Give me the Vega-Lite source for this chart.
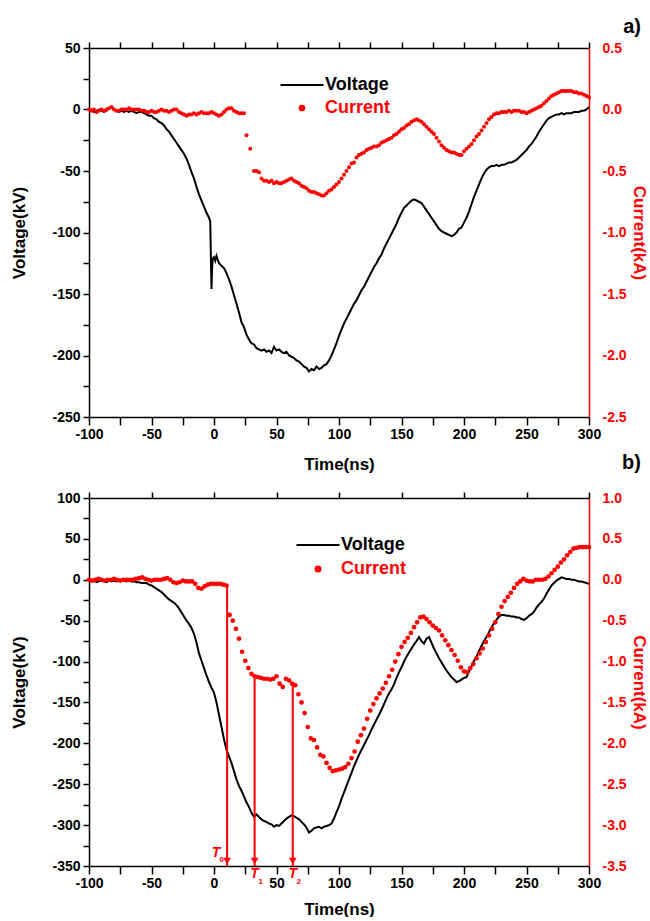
{
"$schema": "https://vega.github.io/schema/vega-lite/v6.json",
"background": "white",
"padding": {"left": 10, "top": 17, "right": 0, "bottom": 0},
"bounds": "flush",
"spacing": 81,
"resolve": {"scale": {"color": "independent"}},
"config": {
 "font": "Liberation Sans",
 "view": {"stroke": null},
 "axis": {"labelFont": "Liberation Sans", "labelFontWeight": "bold", "labelFontSize": 14, "titleFont": "Liberation Sans", "titleFontWeight": "bold", "titleFontSize": 17, "grid": false, "domainWidth": 1.5, "tickWidth": 1.5, "ticks": true, "tickOpacity": 1, "labelOverlap": false, "labelFlush": false, "labelBound": false},
 "legend": {"labelFont": "Liberation Sans", "labelFontWeight": "bold", "labelFontSize": 18}
},
"datasets": {
"va": [
{"t":-100,"v":-1},{"t":-98,"v":0},{"t":-96,"v":-2},{"t":-94,"v":-1},{"t":-92,"v":0},{"t":-90,"v":-1},{"t":-88,"v":-2},{"t":-86,"v":-1},{"t":-84,"v":1},{"t":-82,"v":2},{"t":-80,"v":0},{"t":-78,"v":-1},{"t":-76,"v":-2},{"t":-74,"v":-1},{"t":-72,"v":-2},{"t":-70,"v":-1},{"t":-68,"v":-2},{"t":-66,"v":-1},{"t":-64,"v":-2},{"t":-62,"v":-3},{"t":-60,"v":-2},{"t":-58,"v":-2},{"t":-56,"v":-3},{"t":-54,"v":-4},{"t":-52,"v":-5},{"t":-50,"v":-5},{"t":-48,"v":-7},{"t":-46,"v":-8},{"t":-44,"v":-10},{"t":-42,"v":-11},{"t":-40,"v":-13},{"t":-38,"v":-16},{"t":-36,"v":-18},{"t":-34,"v":-21},{"t":-32,"v":-24},{"t":-30,"v":-27},{"t":-28,"v":-30},{"t":-26,"v":-33},{"t":-24,"v":-36},{"t":-22,"v":-40},{"t":-20,"v":-45},{"t":-18,"v":-51},{"t":-16,"v":-56},{"t":-14,"v":-63},{"t":-12,"v":-69},{"t":-10,"v":-74},{"t":-8,"v":-79},{"t":-6,"v":-84},{"t":-4,"v":-88},{"t":-3,"v":-91},{"t":-2.5,"v":-120},{"t":-2,"v":-146},{"t":-1.5,"v":-128},{"t":-1,"v":-121},{"t":0,"v":-120},{"t":1,"v":-123},{"t":2,"v":-119},{"t":4,"v":-125},{"t":6,"v":-127},{"t":8,"v":-129},{"t":10,"v":-133},{"t":12,"v":-138},{"t":14,"v":-144},{"t":16,"v":-151},{"t":18,"v":-158},{"t":20,"v":-165},{"t":22,"v":-173},{"t":24,"v":-177},{"t":26,"v":-183},{"t":28,"v":-187},{"t":30,"v":-190},{"t":32,"v":-191},{"t":34,"v":-194},{"t":36,"v":-195},{"t":38,"v":-196},{"t":40,"v":-195},{"t":42,"v":-197},{"t":44,"v":-196},{"t":46,"v":-198},{"t":48,"v":-193},{"t":50,"v":-196},{"t":52,"v":-195},{"t":54,"v":-197},{"t":56,"v":-198},{"t":58,"v":-197},{"t":60,"v":-200},{"t":62,"v":-201},{"t":64,"v":-202},{"t":66,"v":-204},{"t":68,"v":-205},{"t":70,"v":-207},{"t":72,"v":-209},{"t":74,"v":-210},{"t":76,"v":-213},{"t":78,"v":-211},{"t":80,"v":-212},{"t":82,"v":-209},{"t":84,"v":-211},{"t":86,"v":-210},{"t":88,"v":-208},{"t":90,"v":-207},{"t":92,"v":-204},{"t":94,"v":-200},{"t":96,"v":-195},{"t":98,"v":-190},{"t":100,"v":-184},{"t":102,"v":-179},{"t":104,"v":-174},{"t":106,"v":-170},{"t":108,"v":-166},{"t":110,"v":-162},{"t":112,"v":-158},{"t":114,"v":-155},{"t":116,"v":-151},{"t":118,"v":-147},{"t":120,"v":-144},{"t":122,"v":-140},{"t":124,"v":-136},{"t":126,"v":-132},{"t":128,"v":-128},{"t":130,"v":-125},{"t":132,"v":-121},{"t":134,"v":-118},{"t":136,"v":-113},{"t":138,"v":-109},{"t":140,"v":-105},{"t":142,"v":-101},{"t":144,"v":-97},{"t":146,"v":-93},{"t":148,"v":-88},{"t":150,"v":-84},{"t":152,"v":-80},{"t":154,"v":-78},{"t":156,"v":-76},{"t":158,"v":-74},{"t":160,"v":-73},{"t":162,"v":-74},{"t":164,"v":-75},{"t":166,"v":-76},{"t":168,"v":-79},{"t":170,"v":-82},{"t":172,"v":-85},{"t":174,"v":-88},{"t":176,"v":-91},{"t":178,"v":-94},{"t":180,"v":-97},{"t":182,"v":-99},{"t":184,"v":-100},{"t":186,"v":-101},{"t":188,"v":-102},{"t":190,"v":-103},{"t":192,"v":-102},{"t":194,"v":-100},{"t":196,"v":-97},{"t":198,"v":-96},{"t":200,"v":-92},{"t":202,"v":-88},{"t":204,"v":-83},{"t":206,"v":-77},{"t":208,"v":-71},{"t":210,"v":-66},{"t":212,"v":-61},{"t":214,"v":-56},{"t":216,"v":-52},{"t":218,"v":-49},{"t":220,"v":-47},{"t":222,"v":-46},{"t":224,"v":-46},{"t":226,"v":-45},{"t":228,"v":-46},{"t":230,"v":-45},{"t":232,"v":-45},{"t":234,"v":-44},{"t":236,"v":-43},{"t":238,"v":-43},{"t":240,"v":-42},{"t":242,"v":-41},{"t":244,"v":-39},{"t":246,"v":-37},{"t":248,"v":-35},{"t":250,"v":-33},{"t":252,"v":-30},{"t":254,"v":-28},{"t":256,"v":-25},{"t":258,"v":-22},{"t":260,"v":-18},{"t":262,"v":-15},{"t":264,"v":-12},{"t":266,"v":-9},{"t":268,"v":-7},{"t":270,"v":-6},{"t":272,"v":-5},{"t":274,"v":-4},{"t":276,"v":-4},{"t":278,"v":-3},{"t":280,"v":-4},{"t":282,"v":-3},{"t":284,"v":-3},{"t":286,"v":-3},{"t":288,"v":-2},{"t":290,"v":-2},{"t":292,"v":-2},{"t":294,"v":-1},{"t":296,"v":-1},{"t":298,"v":0},{"t":300,"v":2}
],
"ia": [
{"t":-100,"i":0},{"t":-98,"i":-0.01},{"t":-96,"i":0},{"t":-94,"i":-0.02},{"t":-92,"i":-0.01},{"t":-90,"i":0},{"t":-88,"i":-0.01},{"t":-86,"i":0},{"t":-84,"i":0.01},{"t":-82,"i":0.02},{"t":-80,"i":0},{"t":-78,"i":-0.01},{"t":-76,"i":-0.01},{"t":-74,"i":0},{"t":-72,"i":0},{"t":-70,"i":0},{"t":-68,"i":0.01},{"t":-66,"i":0},{"t":-64,"i":0},{"t":-62,"i":0},{"t":-60,"i":0},{"t":-58,"i":-0.01},{"t":-56,"i":-0.01},{"t":-54,"i":-0.02},{"t":-52,"i":-0.02},{"t":-50,"i":-0.01},{"t":-48,"i":-0.02},{"t":-46,"i":-0.02},{"t":-44,"i":-0.01},{"t":-42,"i":0},{"t":-40,"i":-0.01},{"t":-38,"i":-0.01},{"t":-36,"i":-0.02},{"t":-34,"i":-0.01},{"t":-32,"i":0},{"t":-30,"i":0},{"t":-28,"i":-0.02},{"t":-26,"i":-0.03},{"t":-24,"i":-0.04},{"t":-22,"i":-0.05},{"t":-20,"i":-0.04},{"t":-18,"i":-0.04},{"t":-16,"i":-0.03},{"t":-14,"i":-0.04},{"t":-12,"i":-0.03},{"t":-10,"i":-0.02},{"t":-8,"i":-0.03},{"t":-6,"i":-0.03},{"t":-4,"i":-0.03},{"t":-2,"i":-0.02},{"t":0,"i":-0.03},{"t":2,"i":-0.04},{"t":4,"i":-0.05},{"t":6,"i":-0.04},{"t":8,"i":-0.02},{"t":10,"i":0},{"t":12,"i":0.01},{"t":14,"i":0.01},{"t":16,"i":-0.01},{"t":18,"i":-0.02},{"t":20,"i":-0.03},{"t":22,"i":-0.03},{"t":24,"i":-0.03},{"t":26,"i":-0.21},{"t":29,"i":-0.32},{"t":32,"i":-0.5},{"t":34,"i":-0.5},{"t":36,"i":-0.51},{"t":38,"i":-0.56},{"t":40,"i":-0.58},{"t":42,"i":-0.58},{"t":44,"i":-0.59},{"t":46,"i":-0.58},{"t":48,"i":-0.6},{"t":50,"i":-0.59},{"t":52,"i":-0.6},{"t":54,"i":-0.6},{"t":56,"i":-0.59},{"t":58,"i":-0.58},{"t":60,"i":-0.57},{"t":62,"i":-0.56},{"t":64,"i":-0.58},{"t":66,"i":-0.59},{"t":68,"i":-0.6},{"t":70,"i":-0.62},{"t":72,"i":-0.63},{"t":74,"i":-0.64},{"t":76,"i":-0.66},{"t":78,"i":-0.67},{"t":80,"i":-0.67},{"t":82,"i":-0.68},{"t":84,"i":-0.69},{"t":86,"i":-0.7},{"t":88,"i":-0.7},{"t":90,"i":-0.68},{"t":92,"i":-0.66},{"t":94,"i":-0.65},{"t":96,"i":-0.63},{"t":98,"i":-0.61},{"t":100,"i":-0.59},{"t":102,"i":-0.56},{"t":104,"i":-0.53},{"t":106,"i":-0.5},{"t":108,"i":-0.47},{"t":110,"i":-0.44},{"t":112,"i":-0.43},{"t":114,"i":-0.39},{"t":116,"i":-0.37},{"t":118,"i":-0.36},{"t":120,"i":-0.35},{"t":122,"i":-0.33},{"t":124,"i":-0.32},{"t":126,"i":-0.31},{"t":128,"i":-0.3},{"t":130,"i":-0.3},{"t":132,"i":-0.29},{"t":134,"i":-0.27},{"t":136,"i":-0.26},{"t":138,"i":-0.25},{"t":140,"i":-0.24},{"t":142,"i":-0.23},{"t":144,"i":-0.21},{"t":146,"i":-0.2},{"t":148,"i":-0.18},{"t":150,"i":-0.16},{"t":152,"i":-0.15},{"t":154,"i":-0.13},{"t":156,"i":-0.12},{"t":158,"i":-0.1},{"t":160,"i":-0.09},{"t":162,"i":-0.08},{"t":164,"i":-0.09},{"t":166,"i":-0.1},{"t":168,"i":-0.12},{"t":170,"i":-0.14},{"t":172,"i":-0.16},{"t":174,"i":-0.18},{"t":176,"i":-0.2},{"t":178,"i":-0.23},{"t":180,"i":-0.26},{"t":182,"i":-0.29},{"t":184,"i":-0.31},{"t":186,"i":-0.33},{"t":188,"i":-0.34},{"t":190,"i":-0.35},{"t":192,"i":-0.35},{"t":194,"i":-0.36},{"t":196,"i":-0.37},{"t":198,"i":-0.37},{"t":200,"i":-0.34},{"t":202,"i":-0.32},{"t":204,"i":-0.3},{"t":206,"i":-0.28},{"t":208,"i":-0.25},{"t":210,"i":-0.22},{"t":212,"i":-0.2},{"t":214,"i":-0.17},{"t":216,"i":-0.14},{"t":218,"i":-0.11},{"t":220,"i":-0.08},{"t":222,"i":-0.06},{"t":224,"i":-0.04},{"t":226,"i":-0.03},{"t":228,"i":-0.03},{"t":230,"i":-0.02},{"t":232,"i":-0.02},{"t":234,"i":-0.02},{"t":236,"i":-0.01},{"t":238,"i":-0.02},{"t":240,"i":-0.01},{"t":242,"i":-0.01},{"t":244,"i":-0.01},{"t":246,"i":-0.02},{"t":248,"i":-0.02},{"t":250,"i":-0.03},{"t":252,"i":-0.02},{"t":254,"i":-0.01},{"t":256,"i":0},{"t":258,"i":0.01},{"t":260,"i":0.02},{"t":262,"i":0.03},{"t":264,"i":0.05},{"t":266,"i":0.07},{"t":268,"i":0.09},{"t":270,"i":0.11},{"t":272,"i":0.12},{"t":274,"i":0.13},{"t":276,"i":0.14},{"t":278,"i":0.15},{"t":280,"i":0.15},{"t":282,"i":0.15},{"t":284,"i":0.15},{"t":286,"i":0.15},{"t":288,"i":0.14},{"t":290,"i":0.14},{"t":292,"i":0.13},{"t":294,"i":0.13},{"t":296,"i":0.12},{"t":298,"i":0.11},{"t":300,"i":0.1}
],
"vb": [
{"t":-100,"v":-1},{"t":-98,"v":-2},{"t":-96,"v":-1},{"t":-94,"v":-3},{"t":-92,"v":-2},{"t":-90,"v":-1},{"t":-88,"v":-2},{"t":-86,"v":-3},{"t":-84,"v":-1},{"t":-82,"v":-2},{"t":-80,"v":-1},{"t":-78,"v":-2},{"t":-76,"v":-1},{"t":-74,"v":0},{"t":-72,"v":-1},{"t":-70,"v":-2},{"t":-68,"v":-1},{"t":-66,"v":-2},{"t":-64,"v":-2},{"t":-62,"v":-3},{"t":-60,"v":-3},{"t":-58,"v":-4},{"t":-56,"v":-4},{"t":-54,"v":-4},{"t":-52,"v":-6},{"t":-50,"v":-7},{"t":-48,"v":-9},{"t":-46,"v":-11},{"t":-44,"v":-13},{"t":-42,"v":-15},{"t":-40,"v":-18},{"t":-38,"v":-21},{"t":-36,"v":-24},{"t":-34,"v":-26},{"t":-32,"v":-28},{"t":-30,"v":-31},{"t":-28,"v":-35},{"t":-26,"v":-40},{"t":-24,"v":-45},{"t":-22,"v":-50},{"t":-20,"v":-54},{"t":-18,"v":-59},{"t":-16,"v":-66},{"t":-14,"v":-77},{"t":-12,"v":-90},{"t":-10,"v":-99},{"t":-8,"v":-108},{"t":-6,"v":-117},{"t":-4,"v":-125},{"t":-2,"v":-132},{"t":0,"v":-138},{"t":2,"v":-150},{"t":4,"v":-165},{"t":6,"v":-180},{"t":8,"v":-195},{"t":10,"v":-208},{"t":12,"v":-216},{"t":14,"v":-224},{"t":16,"v":-234},{"t":18,"v":-244},{"t":20,"v":-252},{"t":22,"v":-258},{"t":24,"v":-265},{"t":26,"v":-272},{"t":28,"v":-278},{"t":30,"v":-285},{"t":32,"v":-290},{"t":34,"v":-287},{"t":36,"v":-290},{"t":38,"v":-293},{"t":40,"v":-295},{"t":42,"v":-296},{"t":44,"v":-298},{"t":46,"v":-299},{"t":48,"v":-302},{"t":50,"v":-300},{"t":52,"v":-301},{"t":54,"v":-298},{"t":56,"v":-295},{"t":58,"v":-292},{"t":60,"v":-290},{"t":62,"v":-288},{"t":64,"v":-289},{"t":66,"v":-291},{"t":68,"v":-293},{"t":70,"v":-296},{"t":72,"v":-299},{"t":74,"v":-303},{"t":76,"v":-309},{"t":78,"v":-307},{"t":80,"v":-304},{"t":82,"v":-303},{"t":84,"v":-302},{"t":86,"v":-304},{"t":88,"v":-302},{"t":90,"v":-301},{"t":92,"v":-300},{"t":94,"v":-298},{"t":96,"v":-292},{"t":98,"v":-284},{"t":100,"v":-277},{"t":102,"v":-268},{"t":104,"v":-260},{"t":106,"v":-252},{"t":108,"v":-244},{"t":110,"v":-236},{"t":112,"v":-228},{"t":114,"v":-221},{"t":116,"v":-214},{"t":118,"v":-208},{"t":120,"v":-202},{"t":122,"v":-196},{"t":124,"v":-190},{"t":126,"v":-183},{"t":128,"v":-177},{"t":130,"v":-171},{"t":132,"v":-165},{"t":134,"v":-159},{"t":136,"v":-152},{"t":138,"v":-145},{"t":140,"v":-139},{"t":142,"v":-134},{"t":144,"v":-128},{"t":146,"v":-120},{"t":148,"v":-113},{"t":150,"v":-107},{"t":152,"v":-100},{"t":154,"v":-94},{"t":156,"v":-89},{"t":158,"v":-84},{"t":160,"v":-79},{"t":162,"v":-75},{"t":164,"v":-70},{"t":166,"v":-75},{"t":168,"v":-78},{"t":170,"v":-72},{"t":172,"v":-70},{"t":174,"v":-77},{"t":176,"v":-84},{"t":178,"v":-90},{"t":180,"v":-96},{"t":182,"v":-101},{"t":184,"v":-106},{"t":186,"v":-111},{"t":188,"v":-115},{"t":190,"v":-119},{"t":192,"v":-122},{"t":194,"v":-125},{"t":196,"v":-124},{"t":198,"v":-122},{"t":200,"v":-120},{"t":202,"v":-119},{"t":204,"v":-112},{"t":206,"v":-106},{"t":208,"v":-99},{"t":210,"v":-94},{"t":212,"v":-87},{"t":214,"v":-81},{"t":216,"v":-75},{"t":218,"v":-70},{"t":220,"v":-64},{"t":222,"v":-58},{"t":224,"v":-53},{"t":226,"v":-49},{"t":228,"v":-45},{"t":230,"v":-43},{"t":232,"v":-43},{"t":234,"v":-44},{"t":236,"v":-44},{"t":238,"v":-45},{"t":240,"v":-45},{"t":242,"v":-46},{"t":244,"v":-46},{"t":246,"v":-48},{"t":248,"v":-49},{"t":250,"v":-47},{"t":252,"v":-44},{"t":254,"v":-42},{"t":256,"v":-39},{"t":258,"v":-34},{"t":260,"v":-30},{"t":262,"v":-27},{"t":264,"v":-23},{"t":266,"v":-17},{"t":268,"v":-12},{"t":270,"v":-7},{"t":272,"v":-4},{"t":274,"v":-1},{"t":276,"v":1},{"t":278,"v":3},{"t":280,"v":2},{"t":282,"v":1},{"t":284,"v":1},{"t":286,"v":0},{"t":288,"v":0},{"t":290,"v":-1},{"t":292,"v":-2},{"t":294,"v":-2},{"t":296,"v":-3},{"t":298,"v":-4},{"t":300,"v":-5}
],
"ib": [
{"t":-100,"i":0},{"t":-97.5,"i":-0.01},{"t":-95,"i":0},{"t":-92.5,"i":0.01},{"t":-90,"i":0},{"t":-87.5,"i":-0.01},{"t":-85,"i":0},{"t":-82.5,"i":0},{"t":-80,"i":0.01},{"t":-77.5,"i":0},{"t":-75,"i":-0.01},{"t":-72.5,"i":0},{"t":-70,"i":0},{"t":-67.5,"i":0},{"t":-65,"i":0},{"t":-62.5,"i":0.01},{"t":-60,"i":0.02},{"t":-57.5,"i":0.03},{"t":-55,"i":0.01},{"t":-52.5,"i":0},{"t":-50,"i":-0.01},{"t":-47.5,"i":0},{"t":-45,"i":0},{"t":-42.5,"i":0},{"t":-40,"i":0.01},{"t":-37.5,"i":0.02},{"t":-35,"i":0},{"t":-32.5,"i":-0.03},{"t":-30,"i":-0.04},{"t":-27.5,"i":-0.03},{"t":-25,"i":-0.01},{"t":-22.5,"i":-0.02},{"t":-20,"i":-0.02},{"t":-17.5,"i":-0.02},{"t":-15,"i":-0.05},{"t":-12.5,"i":-0.1},{"t":-10,"i":-0.11},{"t":-7.5,"i":-0.08},{"t":-5,"i":-0.06},{"t":-2.5,"i":-0.05},{"t":0,"i":-0.05},{"t":2.5,"i":-0.05},{"t":5,"i":-0.05},{"t":7.5,"i":-0.06},{"t":10,"i":-0.07},{"t":12.5,"i":-0.43},{"t":15,"i":-0.5},{"t":17.5,"i":-0.6},{"t":20,"i":-0.72},{"t":22.5,"i":-0.88},{"t":25,"i":-0.99},{"t":27.5,"i":-1.08},{"t":30,"i":-1.15},{"t":32.5,"i":-1.18},{"t":35,"i":-1.19},{"t":37.5,"i":-1.2},{"t":40,"i":-1.21},{"t":42.5,"i":-1.21},{"t":45,"i":-1.22},{"t":47.5,"i":-1.21},{"t":50,"i":-1.18},{"t":52.5,"i":-1.27},{"t":55,"i":-1.31},{"t":57.5,"i":-1.21},{"t":60,"i":-1.23},{"t":62.5,"i":-1.27},{"t":65,"i":-1.29},{"t":67.5,"i":-1.4},{"t":70,"i":-1.5},{"t":72.5,"i":-1.63},{"t":75,"i":-1.8},{"t":77.5,"i":-1.94},{"t":80,"i":-1.96},{"t":82.5,"i":-2.05},{"t":85,"i":-2.14},{"t":87.5,"i":-2.16},{"t":90,"i":-2.24},{"t":92.5,"i":-2.3},{"t":95,"i":-2.34},{"t":97.5,"i":-2.33},{"t":100,"i":-2.32},{"t":102.5,"i":-2.31},{"t":105,"i":-2.29},{"t":107.5,"i":-2.25},{"t":110,"i":-2.18},{"t":112.5,"i":-2.1},{"t":115,"i":-1.98},{"t":117.5,"i":-1.9},{"t":120,"i":-1.82},{"t":122.5,"i":-1.7},{"t":125,"i":-1.6},{"t":127.5,"i":-1.52},{"t":130,"i":-1.45},{"t":132.5,"i":-1.39},{"t":135,"i":-1.33},{"t":137.5,"i":-1.26},{"t":140,"i":-1.18},{"t":142.5,"i":-1.1},{"t":145,"i":-1},{"t":147.5,"i":-0.91},{"t":150,"i":-0.82},{"t":152.5,"i":-0.76},{"t":155,"i":-0.71},{"t":157.5,"i":-0.65},{"t":160,"i":-0.58},{"t":162.5,"i":-0.52},{"t":165,"i":-0.46},{"t":167.5,"i":-0.45},{"t":170,"i":-0.48},{"t":172.5,"i":-0.52},{"t":175,"i":-0.56},{"t":177.5,"i":-0.59},{"t":180,"i":-0.62},{"t":182.5,"i":-0.68},{"t":185,"i":-0.74},{"t":187.5,"i":-0.8},{"t":190,"i":-0.86},{"t":192.5,"i":-0.92},{"t":195,"i":-0.99},{"t":197.5,"i":-1.07},{"t":200,"i":-1.12},{"t":202.5,"i":-1.13},{"t":205,"i":-1.08},{"t":207.5,"i":-1.03},{"t":210,"i":-0.96},{"t":212.5,"i":-0.9},{"t":215,"i":-0.84},{"t":217.5,"i":-0.76},{"t":220,"i":-0.68},{"t":222.5,"i":-0.6},{"t":225,"i":-0.52},{"t":227.5,"i":-0.42},{"t":230,"i":-0.33},{"t":232.5,"i":-0.26},{"t":235,"i":-0.21},{"t":237.5,"i":-0.16},{"t":240,"i":-0.1},{"t":242.5,"i":-0.05},{"t":245,"i":-0.02},{"t":247.5,"i":0.01},{"t":250,"i":-0.01},{"t":252.5,"i":-0.02},{"t":255,"i":-0.02},{"t":257.5,"i":0},{"t":260,"i":0},{"t":262.5,"i":0},{"t":265,"i":0.01},{"t":267.5,"i":0.04},{"t":270,"i":0.08},{"t":272.5,"i":0.12},{"t":275,"i":0.16},{"t":277.5,"i":0.21},{"t":280,"i":0.25},{"t":282.5,"i":0.3},{"t":285,"i":0.34},{"t":287.5,"i":0.38},{"t":290,"i":0.39},{"t":292.5,"i":0.4},{"t":295,"i":0.4},{"t":297.5,"i":0.4},{"t":300,"i":0.4}
],
"arrows": [
{"t":10.5,"top":-0.07,"sub":"0"},{"t":32.5,"top":-1.18,"sub":"1"},{"t":63,"top":-1.27,"sub":"2"}
]
},
"vconcat": [
{
 "width": 500, "height": 369,
 "title": {"text": "a)", "anchor": "end", "frame": "group", "fontSize": 20, "fontWeight": "bold", "color": "black", "font": "Liberation Sans", "dx": 52, "offset": 4},
 "resolve": {"scale": {"y": "independent"}, "axis": {"x": "independent"}},
 "layer": [
  {
   "data": {"name": "va"},
   "mark": {"type": "line", "strokeWidth": 2},
   "encoding": {
    "x": {"field": "t", "type": "quantitative", "scale": {"domain": [-100, 300], "nice": false, "zero": false},
     "axis": {"orient": "bottom", "values": [-100,-75,-50,-25,0,25,50,75,100,125,150,175,200,225,250,275,300], "labelExpr": "datum.value % 50 === 0 ? replace(format(datum.value,'d'),'−','-') : ''", "tickSize": 8, "encode": {"ticks": {"update": {"y2": {"signal": "datum.value % 50 === 0 ? 8 : 4"}}}}, "labelPadding": 2, "title": "Time(ns)", "titlePadding": 15, "domainColor": "black", "tickColor": "black", "labelColor": "black", "titleColor": "black"}},
    "y": {"field": "v", "type": "quantitative", "scale": {"domain": [-250, 50], "nice": false, "zero": false},
     "axis": {"orient": "left", "values": [-250,-225,-200,-175,-150,-125,-100,-75,-50,-25,0,25,50], "labelExpr": "datum.value % 50 === 0 ? replace(format(datum.value,'d'),'−','-') : ''", "tickSize": 6, "encode": {"ticks": {"update": {"x2": {"signal": "datum.value % 50 === 0 ? -6 : -4"}}}}, "labelPadding": 3, "title": "Voltage(kV)", "titlePadding": 23, "domainColor": "black", "tickColor": "black", "labelColor": "black", "titleColor": "black"}},
    "color": {"datum": "Voltage", "scale": {"domain": ["Voltage", "Current"], "range": ["black", "red"]},
     "legend": {"orient": "none", "legendX": 204, "legendY": 28, "title": null, "padding": 0, "symbolSize": 100, "symbolStrokeWidth": 2, "labelOffset": 14, "rowPadding": 5,
      "encode": {
       "symbols": {"update": {"shape": {"signal": "datum.value === 'Voltage' ? 'M-4.3,0H4.3' : 'circle'"}, "size": {"signal": "datum.value === 'Voltage' ? 100 : 22"}, "fill": {"signal": "datum.value === 'Voltage' ? 'transparent' : 'red'"}, "stroke": {"signal": "datum.value === 'Voltage' ? 'black' : 'transparent'"}, "strokeWidth": {"value": 2}}},
       "labels": {"update": {"fill": {"signal": "datum.value === 'Voltage' ? 'black' : 'red'"}}}
      }}}
   }
  },
  {
   "data": {"name": "ia"},
   "mark": {"type": "point", "filled": true, "size": 16, "opacity": 1, "shape": "circle"},
   "encoding": {
    "x": {"field": "t", "type": "quantitative", "scale": {"domain": [-100, 300], "nice": false, "zero": false},
     "axis": {"orient": "top", "values": [-100,-75,-50,-25,0,25,50,75,100,125,150,175,200,225,250,275,300], "labels": false, "tickSize": 6, "encode": {"ticks": {"update": {"y2": {"signal": "datum.value % 50 === 0 ? 8 : 5"}}}}, "title": null, "domainColor": "black", "tickColor": "black"}},
    "y": {"field": "i", "type": "quantitative", "scale": {"domain": [-2.5, 0.5], "nice": false, "zero": false},
     "axis": {"orient": "right", "values": [-2.5,-2.25,-2,-1.75,-1.5,-1.25,-1,-0.75,-0.5,-0.25,0,0.25,0.5], "labelExpr": "datum.value % 0.5 === 0 ? replace(format(datum.value,'.1f'),'−','-') : ''", "tickSize": 0, "encode": {"ticks": {"update": {"x2": {"signal": "datum.value % 0.5 === 0 ? -6 : -4"}}}}, "labelPadding": 13, "title": "Current(kA)", "titlePadding": 3, "domainColor": "red", "tickColor": "red", "labelColor": "red", "titleColor": "red"}},
    "color": {"datum": "Current"}
   }
  }
 ]
},
{
 "width": 500, "height": 368,
 "title": {"text": "b)", "anchor": "end", "frame": "group", "fontSize": 20, "fontWeight": "bold", "color": "black", "font": "Liberation Sans", "dx": 52, "offset": 18},
 "resolve": {"scale": {"y": "independent"}, "axis": {"x": "independent"}},
 "layer": [
  {
   "data": {"name": "vb"},
   "mark": {"type": "line", "strokeWidth": 2},
   "encoding": {
    "x": {"field": "t", "type": "quantitative", "scale": {"domain": [-100, 300], "nice": false, "zero": false},
     "axis": {"orient": "bottom", "values": [-100,-75,-50,-25,0,25,50,75,100,125,150,175,200,225,250,275,300], "labelExpr": "datum.value % 50 === 0 ? replace(format(datum.value,'d'),'−','-') : ''", "tickSize": 8, "encode": {"ticks": {"update": {"y2": {"signal": "datum.value % 50 === 0 ? 8 : 4"}}}}, "labelPadding": 2, "title": "Time(ns)", "titlePadding": 11, "domainColor": "black", "tickColor": "black", "labelColor": "black", "titleColor": "black"}},
    "y": {"field": "v", "type": "quantitative", "scale": {"domain": [-350, 100], "nice": false, "zero": false},
     "axis": {"orient": "left", "values": [-350,-325,-300,-275,-250,-225,-200,-175,-150,-125,-100,-75,-50,-25,0,25,50,75,100], "labelExpr": "datum.value % 50 === 0 ? replace(format(datum.value,'d'),'−','-') : ''", "tickSize": 6, "encode": {"ticks": {"update": {"x2": {"signal": "datum.value % 50 === 0 ? -6 : -4"}}}}, "labelPadding": 3, "title": "Voltage(kV)", "titlePadding": 23, "domainColor": "black", "tickColor": "black", "labelColor": "black", "titleColor": "black"}},
    "color": {"datum": "Voltage", "scale": {"domain": ["Voltage", "Current"], "range": ["black", "red"]},
     "legend": {"orient": "none", "legendX": 220, "legendY": 38, "title": null, "padding": 0, "symbolSize": 100, "symbolStrokeWidth": 2, "labelOffset": 14, "rowPadding": 6,
      "encode": {
       "symbols": {"update": {"shape": {"signal": "datum.value === 'Voltage' ? 'M-4.3,0H4.3' : 'circle'"}, "size": {"signal": "datum.value === 'Voltage' ? 100 : 25"}, "fill": {"signal": "datum.value === 'Voltage' ? 'transparent' : 'red'"}, "stroke": {"signal": "datum.value === 'Voltage' ? 'black' : 'transparent'"}, "strokeWidth": {"value": 2}}},
       "labels": {"update": {"fill": {"signal": "datum.value === 'Voltage' ? 'black' : 'red'"}}}
      }}}
   }
  },
  {
   "layer": [
    {
     "data": {"name": "ib"},
     "mark": {"type": "point", "filled": true, "size": 22, "opacity": 1, "shape": "circle"},
     "encoding": {
      "x": {"field": "t", "type": "quantitative", "scale": {"domain": [-100, 300], "nice": false, "zero": false},
       "axis": {"orient": "top", "values": [-100,-75,-50,-25,0,25,50,75,100,125,150,175,200,225,250,275,300], "labels": false, "tickSize": 6, "encode": {"ticks": {"update": {"y2": {"signal": "datum.value % 50 === 0 ? 8 : 5"}}}}, "title": null, "domainColor": "black", "tickColor": "black"}},
      "y": {"field": "i", "type": "quantitative", "scale": {"domain": [-3.5, 1], "nice": false, "zero": false},
       "axis": {"orient": "right", "values": [-3.5,-3.25,-3,-2.75,-2.5,-2.25,-2,-1.75,-1.5,-1.25,-1,-0.75,-0.5,-0.25,0,0.25,0.5,0.75,1], "labelExpr": "datum.value % 0.5 === 0 ? replace(format(datum.value,'.1f'),'−','-') : ''", "tickSize": 0, "encode": {"ticks": {"update": {"x2": {"signal": "datum.value % 0.5 === 0 ? -6 : -4"}}}}, "labelPadding": 13, "title": "Current(kA)", "titlePadding": 3, "domainColor": "red", "tickColor": "red", "labelColor": "red", "titleColor": "red"}},
      "color": {"datum": "Current"}
     }
    },
    {
     "data": {"name": "arrows"},
     "mark": {"type": "rule", "color": "red", "strokeWidth": 2},
     "encoding": {
      "x": {"field": "t", "type": "quantitative"},
      "y": {"field": "top", "type": "quantitative"},
      "y2": {"datum": -3.5}
     }
    },
    {
     "data": {"name": "arrows"},
     "mark": {"type": "point", "shape": "triangle-down", "filled": true, "color": "red", "size": 60, "opacity": 1, "yOffset": -5},
     "encoding": {
      "x": {"field": "t", "type": "quantitative"},
      "y": {"datum": -3.5}
     }
    },
    {
     "data": {"name": "arrows"},
     "transform": [{"filter": "datum.sub === '0'"}],
     "mark": {"type": "text", "text": "T", "color": "red", "fontSize": 14, "fontWeight": "bold", "fontStyle": "italic", "baseline": "middle", "align": "center", "dx": -11, "dy": -13},
     "encoding": {"x": {"field": "t", "type": "quantitative"}, "y": {"datum": -3.5}}
    },
    {
     "data": {"name": "arrows"},
     "transform": [{"filter": "datum.sub === '0'"}],
     "mark": {"type": "text", "color": "red", "fontSize": 8, "fontWeight": "bold", "baseline": "middle", "align": "center", "dx": -5.5, "dy": -6},
     "encoding": {"x": {"field": "t", "type": "quantitative"}, "y": {"datum": -3.5}, "text": {"field": "sub"}}
    },
    {
     "data": {"name": "arrows"},
     "transform": [{"filter": "datum.sub !== '0'"}],
     "mark": {"type": "text", "text": "T", "color": "red", "fontSize": 14, "fontWeight": "bold", "fontStyle": "italic", "baseline": "middle", "align": "center", "dx": 0, "dy": 8},
     "encoding": {"x": {"field": "t", "type": "quantitative"}, "y": {"datum": -3.5}}
    },
    {
     "data": {"name": "arrows"},
     "transform": [{"filter": "datum.sub !== '0'"}],
     "mark": {"type": "text", "color": "red", "fontSize": 8, "fontWeight": "bold", "baseline": "middle", "align": "center", "dx": 6, "dy": 16},
     "encoding": {"x": {"field": "t", "type": "quantitative"}, "y": {"datum": -3.5}, "text": {"field": "sub"}}
    }
   ]
  }
 ]
}
]
}
